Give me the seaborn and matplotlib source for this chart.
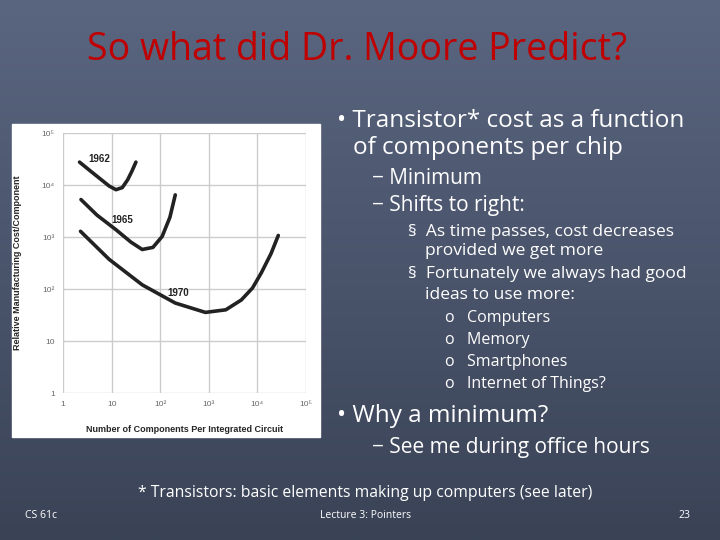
import numpy as np
import pandas as pd
import matplotlib
matplotlib.use("Agg")
import matplotlib.pyplot as plt
import seaborn as sns

# ==========================================
# DATA (log10 values)
# ==========================================
x_1962 = [0.34, 0.55, 0.75, 0.95, 1.09, 1.22, 1.33, 1.42, 1.50]
y_1962 = [4.44, 4.28, 4.13, 3.98, 3.91, 3.95, 4.10, 4.27, 4.44]
x_1965 = [0.37, 0.70, 1.09, 1.40, 1.63, 1.85, 2.04, 2.20, 2.31]
y_1965 = [3.72, 3.42, 3.14, 2.90, 2.76, 2.80, 3.01, 3.38, 3.81]
x_1970 = [0.36, 0.95, 1.63, 2.31, 2.93, 3.35, 3.67, 3.90, 4.08, 4.28, 4.43]
y_1970 = [3.11, 2.57, 2.08, 1.73, 1.55, 1.60, 1.79, 2.02, 2.31, 2.68, 3.03]
years = ["1962", "1965", "1970"]
label_pos = [(0.75, 4.50), (1.22, 3.32), (2.38, 1.92)]
tick_labels = ["1", "10", "10²", "10³", "10⁴", "10⁵"]

frames = []
for yr, xs, ys in zip(years, [x_1962, x_1965, x_1970], [y_1962, y_1965, y_1970]):
    frames.append(pd.DataFrame({"x": 10 ** np.array(xs), "y": 10 ** np.array(ys), "year": yr}))
df = pd.concat(frames)

sns.set_style("white")
plt.rcParams['font.family'] = ['Open Sans', 'DejaVu Sans']

fig = plt.figure(figsize=(7.2, 5.4), dpi=100)

# slide background gradient
bg = fig.add_axes([0, 0, 1, 1], zorder=-10)
grad = np.linspace(0, 1, 256).reshape(-1, 1)
cmap = matplotlib.colors.LinearSegmentedColormap.from_list("bg", ["#5a6580", "#3a4356"])
bg.imshow(grad, aspect="auto", cmap=cmap, extent=[0, 1, 0, 1])
bg.axis("off")

# white panel behind the chart
fig.patches.append(plt.Rectangle((12 / 720, 1 - 437 / 540), 308 / 720, 313 / 540,
                                 transform=fig.transFigure, color="white", zorder=-5))

ax = fig.add_axes([63 / 720, 1 - 393 / 540, 243 / 720, 260 / 540])
ax.set_facecolor("white")
sns.lineplot(data=df, x="x", y="y", units="year", estimator=None, sort=False,
             color="#222222", linewidth=2.6, ax=ax)
ax.set_xscale("log")
ax.set_yscale("log")
ax.set_xlim(1, 1e5)
ax.set_ylim(1, 1e5)
ax.set_xticks([10 ** i for i in range(6)])
ax.set_yticks([10 ** i for i in range(6)])
ax.set_xticklabels(tick_labels, family=["Liberation Sans", "DejaVu Sans"])
ax.set_yticklabels(tick_labels, family=["Liberation Sans", "DejaVu Sans"])
ax.minorticks_off()
ax.tick_params(labelsize=6, colors="#666666", length=0, pad=6)
ax.grid(True, color="#cccccc", linewidth=1)
for s in ax.spines.values():
    s.set_visible(False)
ax.set_xlabel("Number of Components Per Integrated Circuit", fontsize=6.5,
              fontweight="bold", family="Liberation Sans", labelpad=12)
ax.set_ylabel("Relative Manufacturing Cost/Component", fontsize=6.5,
              fontweight="bold", family="Liberation Sans", labelpad=14)
for yr, (lx, ly) in zip(years, label_pos):
    ax.text(10 ** lx, 10 ** ly, yr, fontsize=7, fontweight="bold",
            family="Liberation Sans", color="#222222", ha="center", va="center")

# slide text
fig.text(357 / 720, 1 - 50 / 540, "So what did Dr. Moore Predict?", color="#c00000",
         fontsize=27, ha="center", va="center")
W = "white"
lines = [
    (337, 121, "• Transistor* cost as a function", 17.5),
    (353, 148, "of components per chip", 17.5),
    (372, 178, "− Minimum", 15),
    (372, 206, "− Shifts to right:", 15),
    (408, 232, "§  As time passes, cost decreases", 12.5),
    (425, 251, "provided we get more", 12.5),
    (408, 274, "§  Fortunately we always had good", 12.5),
    (425, 295, "ideas to use more:", 12.5),
    (445, 318, "o   Computers", 11.5),
    (445, 340, "o   Memory", 11.5),
    (445, 362, "o   Smartphones", 11.5),
    (445, 384, "o   Internet of Things?", 11.5),
    (337, 416, "• Why a minimum?", 17.5),
    (372, 447, "− See me during office hours", 15),
]
for x, y, t, fs in lines:
    fig.text(x / 720, 1 - y / 540, t, color=W, fontsize=fs, ha="left", va="center")
fig.text(365 / 720, 1 - 493 / 540,
         "* Transistors: basic elements making up computers (see later)",
         color=W, fontsize=11.3, ha="center", va="center")
fig.text(25 / 720, 1 - 515 / 540, "CS 61c", color=W, fontsize=7.5, va="center")
fig.text(366 / 720, 1 - 515 / 540, "Lecture 3: Pointers", color=W, fontsize=7.5,
         ha="center", va="center")
fig.text(690 / 720, 1 - 515 / 540, "23", color=W, fontsize=7.5, ha="right", va="center")

fig.savefig("out.png", dpi=100)
